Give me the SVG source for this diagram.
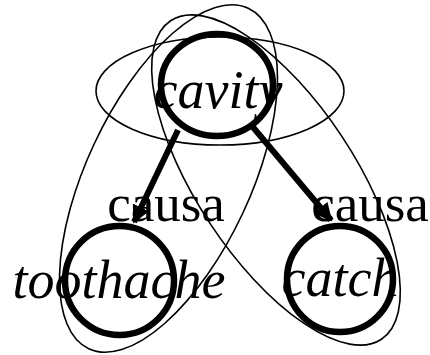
<svg xmlns="http://www.w3.org/2000/svg" width="430" height="355" viewBox="0 0 430 355">
<style>
.ell{fill:none;stroke:#000;stroke-width:1.6}
.node{fill:none;stroke:#000;stroke-width:6.5}
.edge{stroke:#000;stroke-width:6;fill:none}
.lbl{font-family:"Liberation Serif","Times New Roman",serif;font-style:italic;font-size:54px;fill:#000;text-anchor:middle}
.el{font-family:"Liberation Serif","Times New Roman",serif;font-size:53px;fill:#000;text-anchor:middle}
</style>
<defs>
<marker id="arr" viewBox="0 0 10 10" refX="9" refY="5" markerWidth="3" markerHeight="3" orient="auto" markerUnits="strokeWidth">
<path d="M0,0 L10,5 L0,10 z" fill="#000"/>
</marker>
</defs>
<rect width="430" height="355" fill="#fff"/>
<g id="clusters">
<ellipse class="ell" cx="220" cy="91" rx="124" ry="54"/>
<ellipse class="ell" cx="168.5" cy="178.5" rx="188" ry="82" transform="rotate(-64.9 168.5 178.5)"/>
<ellipse class="ell" cx="276" cy="180" rx="191" ry="79" transform="rotate(56.5 276 180)"/>
</g>
<g id="connectors">
<line class="edge" x1="178" y1="130" x2="134" y2="222" marker-end="url(#arr)"/>
<line class="edge" x1="252" y1="126" x2="331" y2="220" marker-end="url(#arr)"/>
<text class="el" x="166" y="221">causa</text>
<text class="el" x="370" y="221">causa</text>
</g>
<g id="cavity">
<ellipse class="node" cx="217" cy="85" rx="56" ry="51"/>
<text class="lbl" x="218" y="108">cavity</text>
</g>
<g id="toothache">
<circle class="node" cx="119.5" cy="280.5" r="54.5"/>
<text class="lbl" x="119" y="298">toothache</text>
</g>
<g id="catch">
<circle class="node" cx="340" cy="279" r="53"/>
<text class="lbl" x="340" y="296">catch</text>
</g>
</svg>
